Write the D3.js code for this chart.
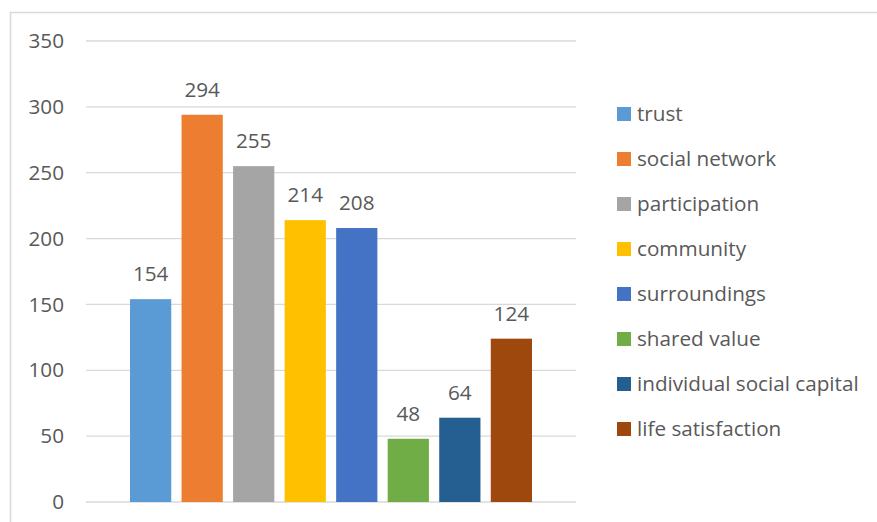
<!DOCTYPE html>
<html>
<head>
<meta charset="utf-8">
<script src="https://cdn.jsdelivr.net/npm/d3@7"></script>
<style>
  html, body { margin: 0; padding: 0; background: #fff; }
  svg { display: block; }
  text { font-family: "Open Sans", Lato, sans-serif; fill: #595959; }
</style>
</head>
<body>
<svg id="chart" width="877" height="522"></svg>
<script>
// Series (one bar each)
const seriesNames = ["trust", "social network", "participation", "community",
  "surroundings", "shared value", "individual social capital", "life satisfaction"];
const seriesValues = [154, 294, 255, 214, 208, 48, 64, 124];
const seriesColors = ["#5b9bd5", "#ed7d31", "#a5a5a5", "#ffc000",
  "#4472c4", "#70ad47", "#255e91", "#9e480e"];
const yTicks = [0, 50, 100, 150, 200, 250, 300, 350];

const FONT = "'Open Sans', Lato, sans-serif";
const FS = 20.7;

const svg = d3.select("#chart");

// Chart-area frame
svg.append("rect")
  .attr("x", 10.5).attr("y", 12.5)
  .attr("width", 900).attr("height", 600)
  .attr("fill", "none").attr("stroke", "#d9d9d9").attr("stroke-width", 1.5);

const plot = { left: 86, right: 576, top: 41, bottom: 502 };

const y = d3.scaleLinear().domain([0, 350]).range([plot.bottom, plot.top]);
const x = d3.scaleBand().domain(seriesNames)
  .range([plot.left, plot.right])
  .paddingInner(0.2).paddingOuter(0.854);

// Gridlines
svg.append("g")
  .selectAll("line").data(yTicks).join("line")
  .attr("x1", plot.left).attr("x2", plot.right)
  .attr("y1", d => y(d)).attr("y2", d => y(d))
  .attr("stroke", "#d9d9d9").attr("stroke-width", 1.3);

// Y axis labels
const yAxis = d3.axisLeft(y).tickValues(yTicks).tickSize(0).tickPadding(0);
const yg = svg.append("g").attr("transform", `translate(${plot.left - 22},0)`).call(yAxis);
yg.select(".domain").remove();
yg.selectAll("text")
  .attr("font-size", FS)
  .style("font-family", FONT)
  .attr("fill", "#595959");

// Bars
svg.append("g")
  .selectAll("rect").data(seriesNames).join("rect")
  .attr("x", d => x(d))
  .attr("width", x.bandwidth())
  .attr("y", (d, i) => y(seriesValues[i]))
  .attr("height", (d, i) => y(0) - y(seriesValues[i]))
  .attr("fill", (d, i) => seriesColors[i]);

// Value labels
svg.append("g")
  .selectAll("text").data(seriesNames).join("text")
  .attr("x", d => x(d) + x.bandwidth() / 2)
  .attr("y", (d, i) => y(seriesValues[i]) - 18)
  .attr("text-anchor", "middle")
  .attr("font-size", FS)
  .text((d, i) => seriesValues[i]);

// Legend
const legend = svg.append("g")
  .selectAll("g").data(seriesNames).join("g")
  .attr("transform", (d, i) => `translate(617,${114 + i * 45})`);
legend.append("rect")
  .attr("x", 0).attr("y", -7).attr("width", 14).attr("height", 14)
  .attr("fill", (d, i) => seriesColors[i]);
legend.append("text")
  .attr("x", 20).attr("y", 0).attr("dy", "0.35em")
  .attr("font-size", FS)
  .text(d => d);
</script>
</body>
</html>
